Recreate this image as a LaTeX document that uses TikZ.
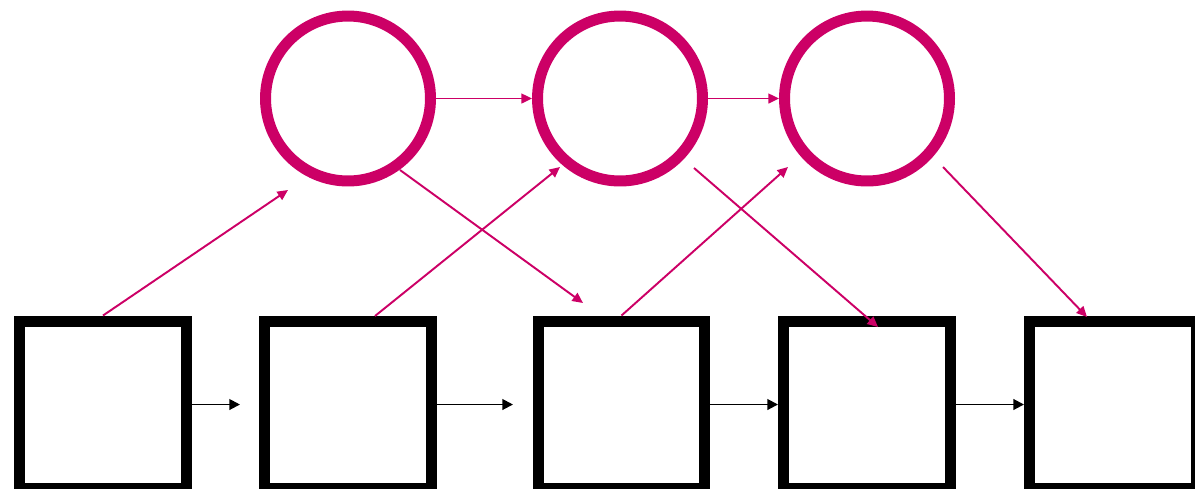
\documentclass[tikz,border=0pt]{standalone}
\usetikzlibrary{arrows.meta,calc}
\definecolor{pinkc}{RGB}{204,0,102}
\begin{document}
\begin{tikzpicture}[x=0.02cm,y=-0.02cm,
  state/.style={circle,draw=pinkc,line width=0.22cm,minimum size=3.3cm,inner sep=0pt},
  obs/.style={rectangle,draw=black,line width=0.22cm,minimum size=3.34cm,inner sep=0pt},
  parrow/.style={draw=pinkc,line width=1.1pt,-{Triangle[length=6pt,width=5.5pt]}},
  barrow/.style={draw=black,line width=1.1pt,-{Triangle[length=6pt,width=6pt]}}]
\useasboundingbox (0,0) rectangle (1195,488);
\node[state] (c1) at (348,98.5) {};
\node[state] (c2) at (620,98.5) {};
\node[state] (c3) at (867,98.5) {};
\node[obs] (s1) at (103,404.5) {};
\node[obs] (s2) at (348,404.5) {};
\node[obs] (s3) at (621.5,404.5) {};
\node[obs] (s4) at (867,404.5) {};
\node[obs] (s5) at (1113,404.5) {};
% free ends
\coordinate (b1) at (240,404.5);
\coordinate (b2) at (513,404.5);
\coordinate (u1) at (288,190);
\coordinate (u2) at (560,167);
\coordinate (u3) at (788,167);
\coordinate (d1s) at (400,170);
\coordinate (d1e) at (583,303);
\coordinate (d2s) at (694,168);
\coordinate (d2e) at (878,327);
\coordinate (d3s) at (943,167);
\coordinate (d3e) at (1087,317);
\coordinate (s2t) at (375,316);
% black arrows
\draw[barrow] (s1.east) -- (b1);
\draw[barrow] (s2.east) -- (b2);
\draw[barrow] (s3.east) -- (s4.west);
\draw[barrow] (s4.east) -- (s5.west);
% pink arrows
\draw[parrow] (c1.east) -- (c2.west);
\draw[parrow] (c2.east) -- (c3.west);
\draw[parrow] (s1.north) -- (u1);
\draw[parrow] (s2t) -- (u2);
\draw[parrow] (s3.north) -- (u3);
\draw[parrow] (d1s) -- (d1e);
\draw[parrow] (d2s) -- (d2e);
\draw[parrow] (d3s) -- (d3e);
\end{tikzpicture}
\end{document}
